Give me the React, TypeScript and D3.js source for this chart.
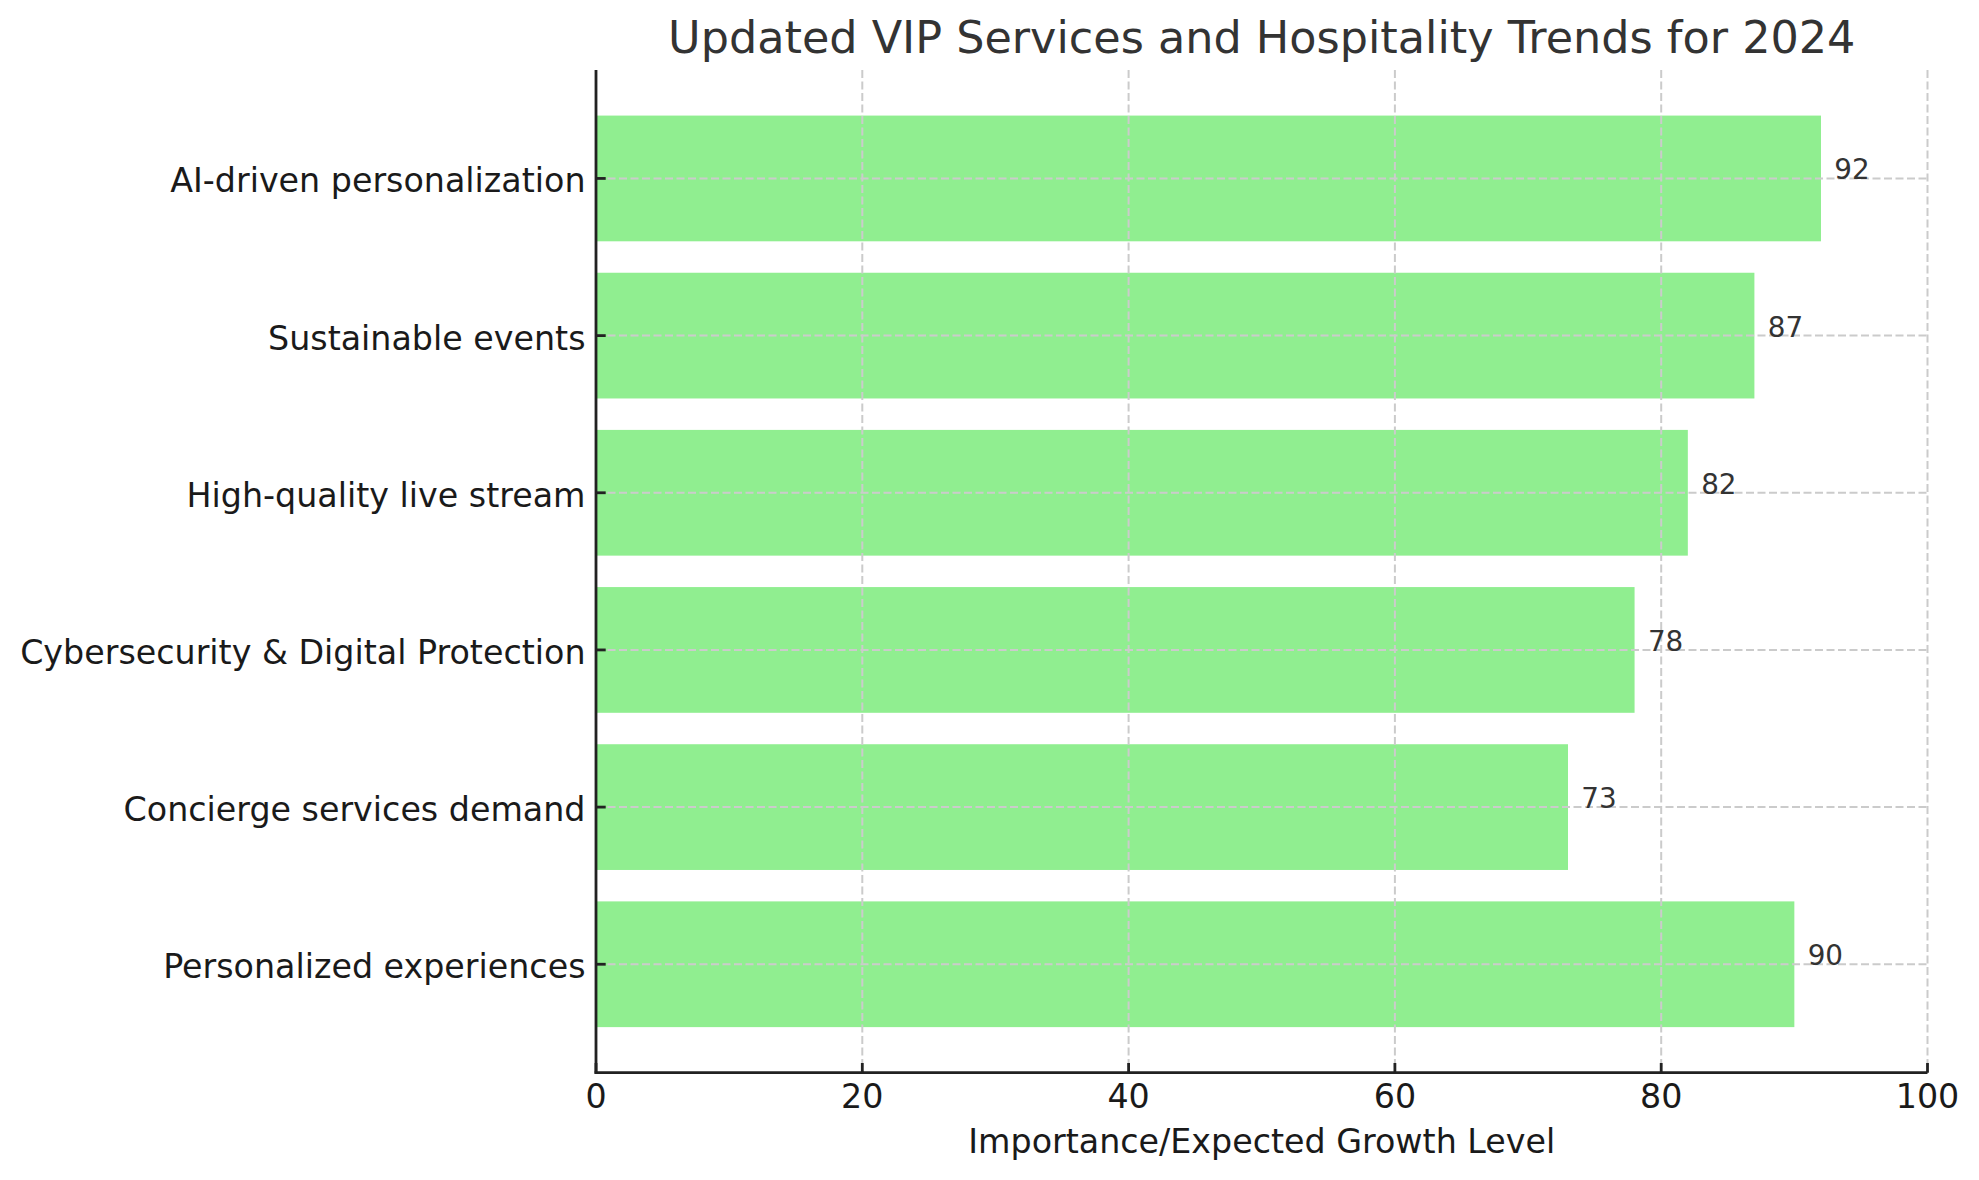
import React from "react";
import * as d3 from "d3";

const categories = [
  "Personalized experiences",
  "Concierge services demand",
  "Cybersecurity & Digital Protection",
  "High-quality live stream",
  "Sustainable events",
  "AI-driven personalization",
];
const values = [90, 73, 78, 82, 87, 92];
const xTicks = [0, 20, 40, 60, 80, 100];
const title = "Updated VIP Services and Hospitality Trends for 2024";
const xLabel = "Importance/Expected Growth Level";

const W = 1979;
const H = 1180;
const left = 596;
const right = 1927.5;
const top = 70;
const bottom = 1072.7;
const font = "'DejaVu Sans', sans-serif";

export default function App() {
  const x = d3.scaleLinear().domain([0, 100]).range([left, right]);
  const y = d3.scaleLinear().domain([-0.69, categories.length - 1 + 0.69]).range([bottom, top]);
  const barH = Math.abs(y(0.4) - y(-0.4));
  const gridStyle = { stroke: "#cbcbcb", strokeWidth: 2, strokeDasharray: "8,3.5" };

  return (
    <svg width={W} height={H} style={{ position: "absolute", left: 0, top: 0, background: "#fff" }} fontFamily={font}>
      <rect x={0} y={0} width={W} height={H} fill="#fff" />
      {values.map((v, i) => (
        <rect key={"b" + i} x={x(0)} y={y(i) - barH / 2} width={x(v) - x(0)} height={barH} fill="#90EE90" />
      ))}
      {xTicks.map((t) => (
        <line key={"gx" + t} x1={x(t)} x2={x(t)} y1={top} y2={bottom} {...gridStyle} />
      ))}
      {categories.map((c, i) => (
        <line key={"gy" + i} x1={left} x2={right} y1={y(i)} y2={y(i)} {...gridStyle} />
      ))}
      {values.map((v, i) => (
        <text key={"v" + i} x={x(v + 1)} y={y(i) + 1} fontSize={27.8} fill="#333">
          {v}
        </text>
      ))}
      {/* spines */}
      <line x1={left} x2={left} y1={top} y2={bottom + 1.4} stroke="#222" strokeWidth={2.8} />
      <line x1={left - 1.4} x2={right} y1={bottom} y2={bottom} stroke="#222" strokeWidth={2.8} />
      {/* x ticks */}
      {xTicks.map((t) => (
        <g key={"xt" + t}>
          <line x1={x(t)} x2={x(t)} y1={bottom} y2={bottom - 9.7} stroke="#222" strokeWidth={2.8} />
          <text x={x(t)} y={bottom + 35.5} fontSize={33.3} fill="#1a1a1a" textAnchor="middle">
            {t}
          </text>
        </g>
      ))}
      {/* y ticks */}
      {categories.map((c, i) => (
        <g key={"yt" + i}>
          <line x1={left} x2={left + 9.7} y1={y(i)} y2={y(i)} stroke="#222" strokeWidth={2.8} />
          <text x={585.5} y={y(i) + 14} fontSize={33.3} fill="#1a1a1a" textAnchor="end">
            {c}
          </text>
        </g>
      ))}
      <text x={(left + right) / 2} y={1153.3} fontSize={33.3} fill="#1a1a1a" textAnchor="middle">
        {xLabel}
      </text>
      <text x={(left + right) / 2} y={53.3} fontSize={44.5} fill="#333" textAnchor="middle">
        {title}
      </text>
    </svg>
  );
}
